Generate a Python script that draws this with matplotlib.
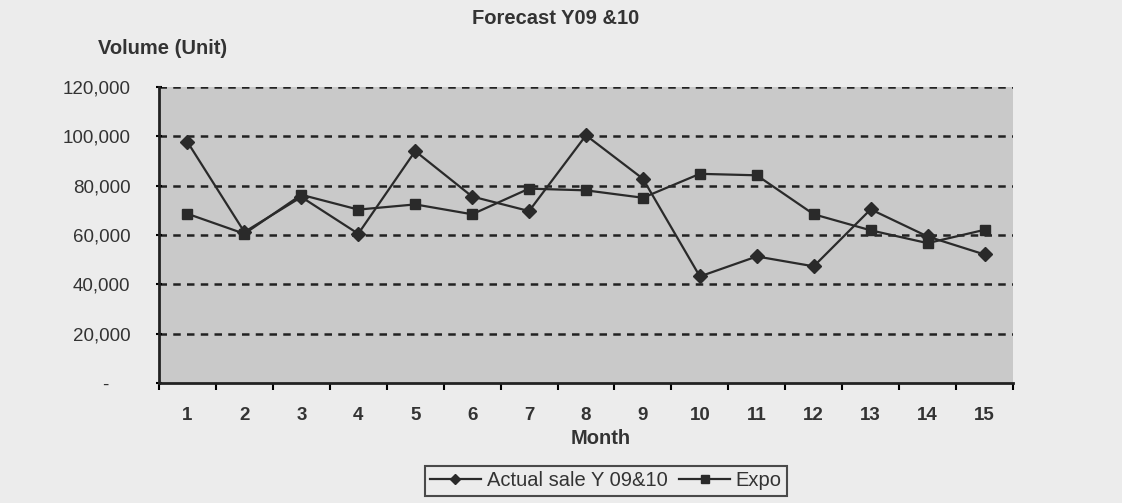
import matplotlib.pyplot as plt
from matplotlib.ticker import FuncFormatter

plt.rcParams['font.family'] = ['Liberation Sans', 'DejaVu Sans']

months = list(range(1, 16))
actual = [97700, 61200, 75400, 60500, 94000, 75600, 69700, 100400,
          82800, 43200, 51300, 47300, 70400, 59400, 52100]
expo = [68600, 60500, 76300, 70300, 72400, 68400, 78800, 78100,
        75100, 84800, 84200, 68400, 61900, 56700, 62100]
yticks = [0, 20000, 40000, 60000, 80000, 100000, 120000]

fig = plt.figure(figsize=(11.22, 5.03), dpi=100, facecolor='#ececec')
ax = fig.add_axes([159 / 1122, 1 - 383 / 503, 854 / 1122, 296 / 503])
ax.set_facecolor('#c9c9c9')

ax.plot(months, actual, color='#2a2a2a', lw=1.6, marker='D', ms=7,
        label='Actual sale Y 09&10')
ax.plot(months, expo, color='#2a2a2a', lw=1.6, marker='s', ms=7,
        label='Expo')

ax.set_xlim(0.5, 15.5)
ax.set_ylim(0, 120000)
ax.set_yticks(yticks)
# Excel accounting style: zero shown as a dash, padded on the right
ax.yaxis.set_major_formatter(FuncFormatter(lambda v, p: '-    ' if v == 0 else f'{v:,.0f}'))
for y in yticks[1:]:
    ax.axhline(y, color='#222222', lw=1.8, ls=(0, (3, 2.5)), zorder=1)

ax.set_xticks(months)
ax.set_xticks([m + 0.5 for m in range(0, 16)], minor=True)
ax.tick_params(axis='x', which='major', length=0, pad=17, labelsize=13.5)
ax.tick_params(axis='x', which='minor', length=5, width=1.5, direction='out')
ax.tick_params(axis='y', length=5, width=1.5, labelsize=13.5, pad=18,
               direction='inout')
for lbl in ax.get_xticklabels():
    lbl.set_fontweight('bold')
    lbl.set_color('#333333')
for lbl in ax.get_yticklabels():
    lbl.set_color('#333333')

for s in ['top', 'right']:
    ax.spines[s].set_visible(False)
for s in ['left', 'bottom']:
    ax.spines[s].set_linewidth(2)
    ax.spines[s].set_color('#222222')

fig.text(556 / 1122, 1 - 18 / 503, 'Forecast Y09 &10', ha='center', va='center',
         fontsize=14.5, fontweight='heavy', color='#333333')
fig.text(98 / 1122, 1 - 49 / 503, 'Volume (Unit)', ha='left', va='center',
         fontsize=14.5, fontweight='bold', color='#333333')
fig.text(601 / 1122, 1 - 439 / 503, 'Month', ha='center', va='center',
         fontsize=14.5, fontweight='bold', color='#333333')

leg = fig.legend(loc='center', bbox_to_anchor=(606 / 1122, 1 - 481 / 503), ncol=2,
                 frameon=True, fancybox=False, edgecolor='#222222', facecolor='#ececec',
                 fontsize=14.5, handlelength=2.5, columnspacing=0.6, handletextpad=0.3,
                 borderpad=0.25, markerscale=0.8)
leg.get_frame().set_linewidth(1.5)
for t in leg.get_texts():
    t.set_color('#333333')

fig.savefig('out.png', dpi=100, facecolor=fig.get_facecolor())
